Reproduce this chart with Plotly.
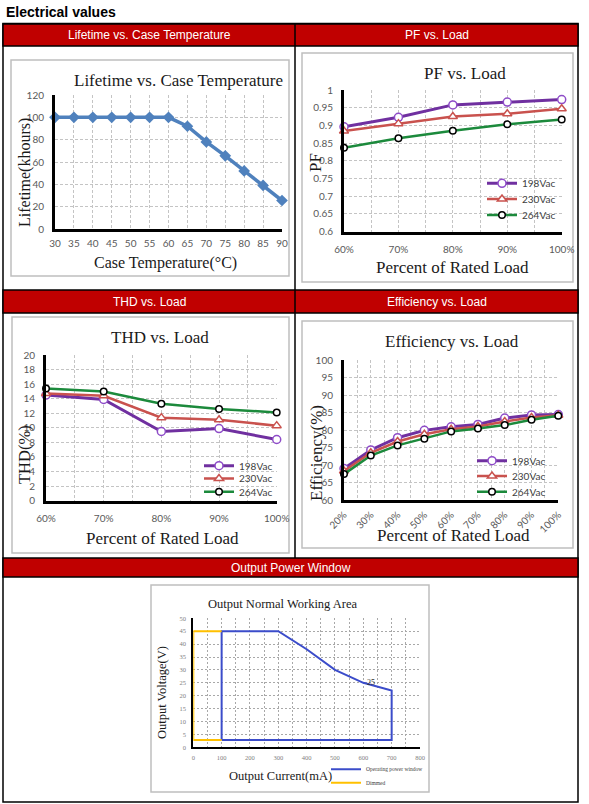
import plotly.graph_objects as go

W, H = 589, 804

# ---------------- data ----------------
life_temp = [30, 35, 40, 45, 50, 55, 60, 65, 70, 75, 80, 85, 90]
life_khours = [100, 100, 100, 100, 100, 100, 100, 92, 78, 65.5, 52, 39, 25.5]

series_names = ["198Vac", "230Vac", "264Vac"]

pf_load = [60, 70, 80, 90, 100]
pf_198 = [0.896, 0.923, 0.958, 0.966, 0.973]
pf_230 = [0.884, 0.905, 0.925, 0.933, 0.947]
pf_264 = [0.837, 0.864, 0.885, 0.903, 0.917]

thd_load = [60, 70, 80, 90, 100]
thd_198 = [14.5, 13.9, 9.5, 9.9, 8.4]
thd_230 = [14.7, 14.4, 11.4, 11.1, 10.3]
thd_264 = [15.4, 15.0, 13.3, 12.6, 12.1]

eff_load = [20, 30, 40, 50, 60, 70, 80, 90, 100]
eff_198 = [69.0, 74.3, 77.8, 79.9, 80.9, 81.6, 83.4, 84.3, 84.4]
eff_230 = [68.3, 73.5, 76.7, 78.8, 80.2, 81.0, 82.4, 83.6, 84.2]
eff_264 = [67.4, 72.7, 75.6, 77.5, 79.6, 80.4, 81.4, 82.9, 84.1]

win_current = [100, 100, 300, 400, 500, 600, 700, 700, 100]
win_voltage = [2.8, 45, 45, 38, 30, 25, 22, 2.8, 2.8]
dim_current = [100, 0, 0, 100]
dim_voltage = [45, 45, 2.8, 2.8]
win_names = ["Operating power window", "Dimmed"]
win_label_index = 5

# ---------------- helpers ----------------
def px(x):
    return x / W

def py(y):
    return 1 - y / H

def xd(a, b):
    return [px(a), px(b)]

def yd(top, bottom):
    return [py(bottom), py(top)]

SERIF = "Liberation Serif"
SANS = "Liberation Sans"
TICK = "Lato"
GRID = "#C4C4C4"
TITLE_C = "#1a1a1a"
RED = "#C00000"

def axis(dom, anchor, **kw):
    d = dict(domain=dom, anchor=anchor, showgrid=True, gridcolor=GRID,
             griddash="3px,2px", gridwidth=1, zeroline=False, showline=True,
             linecolor="black", linewidth=3, ticks="",
             tickfont=dict(family=TICK, size=10, color="#595959"),
             fixedrange=True, automargin=False)
    d.update(kw)
    return d

minor_grid = lambda dt: dict(dtick=dt, showgrid=True, gridcolor=GRID,
                             griddash="3px,2px", gridwidth=1)

fig = go.Figure()
legends = {}
leg_count = [0]

def new_legend(x_left, y_center, font):
    leg_count[0] += 1
    key = "legend" if leg_count[0] == 1 else "legend%d" % leg_count[0]
    legends[key] = dict(x=px(x_left), y=py(y_center), xanchor="left", yanchor="middle",
                        bgcolor="rgba(0,0,0,0)", font=font, itemwidth=30,
                        borderwidth=0)
    return key

# Lifetime
fig.add_trace(go.Scatter(x=life_temp, y=life_khours, mode="lines+markers",
                         line=dict(color="#4F81BD", width=3.5),
                         marker=dict(symbol="diamond", size=9, color="#4F81BD"),
                         xaxis="x", yaxis="y", showlegend=False, cliponaxis=False))

styles = [
    dict(line=dict(color="#7030A0", width=3),
         marker=dict(symbol="circle", size=8, color="white",
                     line=dict(color="#8E4CC8", width=1.5))),
    dict(line=dict(color="#C9524E", width=2.5),
         marker=dict(symbol="triangle-up", size=8, color="white",
                     line=dict(color="#C9524E", width=1.5))),
    dict(line=dict(color="#1C8A3C", width=2.5),
         marker=dict(symbol="circle", size=6.5, color="white",
                     line=dict(color="black", width=1.5))),
]

leg_font = dict(family=TICK, size=10, color="#404040")

for (xs, ys_list, xa, ya, lx, lys) in [
    (pf_load, [pf_198, pf_230, pf_264], "x2", "y2", 482, [183.3, 199, 215]),
    (thd_load, [thd_198, thd_230, thd_264], "x3", "y3", 199, [465.7, 478.5, 491.7]),
    (eff_load, [eff_198, eff_230, eff_264], "x4", "y4", 472, [460.7, 476, 491.7]),
]:
    for name, ys, st, ly in zip(series_names, ys_list, styles, lys):
        lg = new_legend(lx, ly, leg_font)
        fig.add_trace(go.Scatter(x=xs, y=ys, name=name, mode="lines+markers",
                                 xaxis=xa, yaxis=ya, legend=lg,
                                 cliponaxis=False, **st))

small_font = dict(family=SERIF, size=5.5, color="#404040")
lg = new_legend(326, 769.3, small_font)
fig.add_trace(go.Scatter(x=win_current, y=win_voltage, name=win_names[0],
                         mode="lines", line=dict(color="#3B4CCA", width=2),
                         xaxis="x5", yaxis="y5", legend=lg, cliponaxis=False))
lg = new_legend(326, 782.7, small_font)
fig.add_trace(go.Scatter(x=dim_current, y=dim_voltage, name=win_names[1],
                         mode="lines", line=dict(color="#FFC000", width=2),
                         xaxis="x5", yaxis="y5", legend=lg, cliponaxis=False))

# ---------------- shapes (table + chart frames) ----------------
shapes = []
def rect(x0, y0, x1, y1, line_color, lw, fill=None):
    shapes.append(dict(type="rect", xref="paper", yref="paper",
                       x0=px(x0), x1=px(x1), y0=py(y1), y1=py(y0),
                       line=dict(color=line_color, width=lw),
                       fillcolor=fill if fill else "rgba(0,0,0,0)",
                       layer="below"))
def line(x0, y0, x1, y1, color, lw):
    shapes.append(dict(type="line", xref="paper", yref="paper",
                       x0=px(x0), x1=px(x1), y0=py(y0), y1=py(y1),
                       line=dict(color=color, width=lw), layer="below"))

rect(3, 23.5, 578, 802, "black", 1.5)
for (a, b) in [(24, 46), (290, 313), (558, 577)]:
    rect(3, a, 578, b, "black", 1.5, RED)
line(295, 24, 295, 558, "black", 1.5)
# chart frames
for (a, b, c, d) in [(11, 60, 289, 276), (302, 53, 573, 282), (12, 317, 289, 553),
                     (302, 321, 573, 548), (151, 585, 429, 792)]:
    rect(a, b, c, d, "#BFBFBF", 1.5, "white")

# ---------------- annotations ----------------
ann = []
def text(x, y, s, size, family, color, angle=0, bold=False, xanchor="center"):
    ann.append(dict(x=px(x), y=py(y), xref="paper", yref="paper",
                    text=("<b>%s</b>" % s) if bold else s,
                    showarrow=False, xanchor=xanchor, yanchor="middle", textangle=angle,
                    font=dict(size=size, family=family, color=color)))

text(4, 12, "Electrical values", 14, SANS, "black", bold=True, xanchor="left")
text(149, 35, "Lifetime vs. Case Temperature", 12, SANS, "white")
text(436.5, 35, "PF vs. Load", 12, SANS, "white")
text(149, 301.5, "THD vs. Load", 12, SANS, "white")
text(436.5, 301.5, "Efficiency vs. Load", 12, SANS, "white")
text(290.5, 567.5, "Output Power Window", 12, SANS, "white")

text(178, 80, "Lifetime vs. Case Temperature", 17, SERIF, TITLE_C)
text(165, 263, "Case Temperature(°C)", 16, SERIF, TITLE_C)
text(25, 173, "Lifetime(khours)", 16, SERIF, TITLE_C, angle=-90)

text(465, 73, "PF vs. Load", 17, SERIF, TITLE_C)
text(452, 268, "Percent of Rated Load", 17, SERIF, TITLE_C)
text(315, 163, "PF", 17, SERIF, TITLE_C, angle=-90)

text(160, 338, "THD vs. Load", 17, SERIF, TITLE_C)
text(162, 538, "Percent of Rated Load", 17, SERIF, TITLE_C)
text(25, 455, "THD(%)", 16.5, SERIF, TITLE_C, angle=-90)

text(452, 341, "Efficiency vs. Load", 17, SERIF, TITLE_C)
text(454, 535, "Percent of Rated Load", 17, SERIF, TITLE_C)
text(316, 453, "Efficiency(%)", 17, SERIF, TITLE_C, angle=-90)

text(283, 604, "Output Normal Working Area", 12.5, SERIF, TITLE_C)
text(280, 776, "Output Current(mA)", 12.5, SERIF, TITLE_C)
text(162, 693, "Output Voltage(V)", 12.5, SERIF, TITLE_C, angle=-90)

ann.append(dict(x=win_current[win_label_index], y=win_voltage[win_label_index],
                xref="x5", yref="y5", text=str(win_voltage[win_label_index]),
                showarrow=False, xanchor="left", yanchor="middle", xshift=2,
                font=dict(size=8, family=SERIF, color="#333333")))

fig.update_layout(
    width=W, height=H, autosize=False,
    margin=dict(l=0, r=0, t=0, b=0, pad=0, autoexpand=False),
    paper_bgcolor="white", plot_bgcolor="white",
    shapes=shapes, annotations=ann,
    xaxis=axis(xd(55, 282), "y", range=[30, 90], dtick=5, tick0=30,
               ticklabelstandoff=3),
    yaxis=axis(yd(95, 229), "x", range=[0, 120], dtick=20, ticklabelstandoff=6),
    xaxis2=axis(xd(344, 561.7), "y2", range=[60, 100], dtick=10, tick0=60,
                ticksuffix="%", minor=minor_grid(5), ticklabelstandoff=6),
    yaxis2=axis(yd(90, 231.7), "x2", range=[0.6, 1], dtick=0.05, tick0=0.6,
                ticklabelstandoff=6),
    xaxis3=axis(xd(46, 276.7), "y3", range=[60, 100], dtick=10, tick0=60,
                ticksuffix="%", minor=minor_grid(5), ticklabelstandoff=6),
    yaxis3=axis(yd(355, 500.7), "x3", range=[0, 20], dtick=2, tick0=0,
                ticklabelstandoff=6),
    xaxis4=axis(xd(344, 558.3), "y4", range=[20, 100], dtick=10, tick0=20,
                ticksuffix="%", minor=minor_grid(5), tickangle=-45,
                ticklabelstandoff=2),
    yaxis4=axis(yd(360, 500), "x4", range=[60, 100], dtick=5, tick0=60,
                ticklabelstandoff=6),
    xaxis5=axis(xd(193.3, 420), "y5", range=[0, 800], dtick=100, tick0=0,
                minor=dict(dtick=50, showgrid=True, gridcolor="#A8A8A8",
                           griddash="2px,2px", gridwidth=1),
                gridcolor="#A8A8A8", griddash="2px,2px", linewidth=2,
                tickfont=dict(family=SERIF, size=6.5, color="#808080"),
                ticklabelstandoff=3, layer="below traces"),
    yaxis5=axis(yd(618.3, 747.3), "x5", range=[0, 50], dtick=5, tick0=0,
                gridcolor="#A8A8A8", griddash="2px,2px", linewidth=2,
                tickfont=dict(family=SERIF, size=6.5, color="#808080"),
                ticklabelstandoff=4, layer="below traces"),
    **legends,
)

fig.write_html("out.html", config={"displayModeBar": False, "staticPlot": True},
               post_script="document.body.style.margin='0';document.body.style.overflow='hidden';")
